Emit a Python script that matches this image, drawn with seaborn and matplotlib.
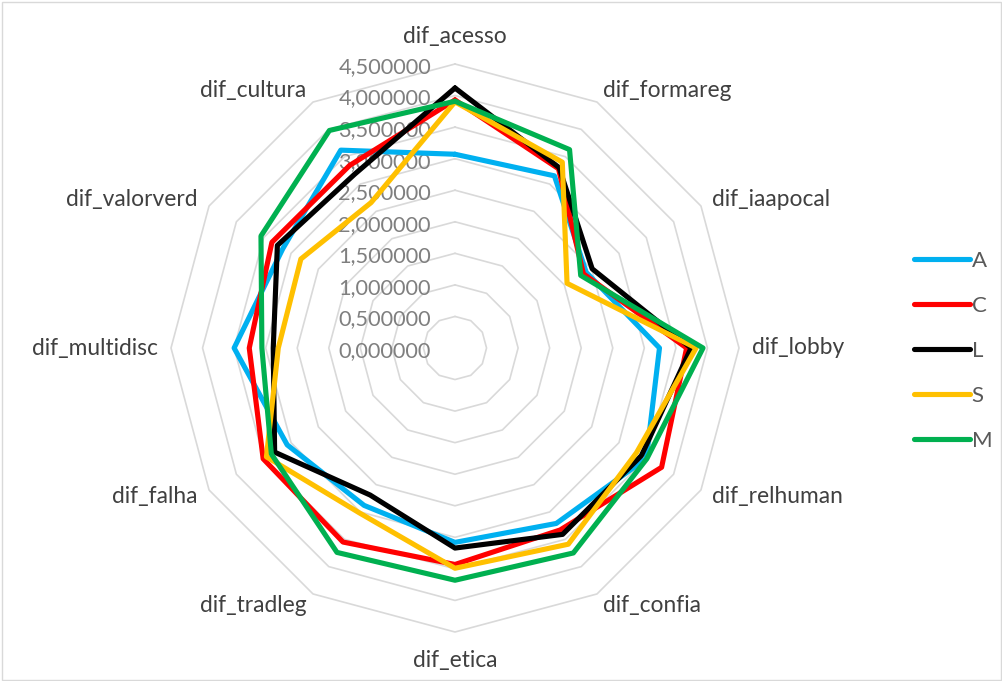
import numpy as np
import pandas as pd
import matplotlib
matplotlib.use("Agg")
import matplotlib.pyplot as plt
from matplotlib.lines import Line2D
from matplotlib.patches import Rectangle
import seaborn as sns

# Radar chart of the twelve "dif_" dimensions for five groups
categories = ["dif_acesso", "dif_formareg", "dif_iaapocal", "dif_lobby",
              "dif_relhuman", "dif_confia", "dif_etica", "dif_tradleg",
              "dif_falha", "dif_multidisc", "dif_valorverd", "dif_cultura"]

series_names = ["A", "C", "L", "S", "M"]
values_A = [3.07, 3.15, 2.40, 3.24, 3.50, 3.21, 3.08, 2.88, 3.07, 3.50, 3.15, 3.62]
values_C = [3.93, 3.28, 2.35, 3.67, 3.78, 3.33, 3.43, 3.55, 3.51, 3.26, 3.35, 3.34]
values_L = [4.12, 3.30, 2.51, 3.74, 3.41, 3.41, 3.17, 2.69, 3.30, 2.88, 3.25, 3.18]
values_S = [3.90, 3.40, 2.05, 3.82, 3.32, 3.59, 3.49, 3.02, 3.45, 2.80, 2.82, 2.66]
values_M = [3.91, 3.63, 2.30, 3.93, 3.51, 3.75, 3.68, 3.74, 3.36, 3.06, 3.55, 3.98]

ring_values = [0.0, 0.5, 1.0, 1.5, 2.0, 2.5, 3.0, 3.5, 4.0, 4.5]
ring_labels = ["0,000000", "0,500000", "1,000000", "1,500000", "2,000000",
               "2,500000", "3,000000", "3,500000", "4,000000", "4,500000"]

colors = {"A": "#00B0F0", "C": "#FF0000", "L": "#000000",
          "S": "#FFC000", "M": "#00B050"}

sns.set_style("white")
plt.rcParams["font.family"] = ["Lato", "DejaVu Sans"]

n = len(categories)
theta = np.arange(n) * 2 * np.pi / n
theta_closed = np.append(theta, 2 * np.pi)

all_values = {"A": values_A, "C": values_C, "L": values_L,
              "S": values_S, "M": values_M}
frames = []
for name in series_names:
    vals = all_values[name]
    frames.append(pd.DataFrame({
        "theta": theta_closed,
        "value": list(vals) + [vals[0]],
        "series": name,
    }))
df = pd.concat(frames, ignore_index=True)

fig = plt.figure(figsize=(10.03, 6.81), dpi=100)
R_PX = 284.0
cx, cy = 455.0, 681.0 - 348.0
ax = fig.add_axes([(cx - R_PX) / 1003, (cy - R_PX) / 681,
                   2 * R_PX / 1003, 2 * R_PX / 681], projection="polar")
ax.set_theta_offset(np.pi / 2)
ax.set_theta_direction(-1)
ax.set_ylim(0, 4.5)
ax.set_facecolor("none")
ax.grid(False)
ax.spines["polar"].set_visible(False)

# straight-edged polygon rings
for v in ring_values[1:]:
    ax.plot(theta_closed, [v] * (n + 1), color="#d9d9d9", lw=1.2,
            zorder=1, clip_on=False)

sns.lineplot(data=df, x="theta", y="value", hue="series",
             hue_order=series_names, palette=colors, sort=False,
             estimator=None, linewidth=3.7, legend=False, ax=ax, zorder=3)
for line in ax.lines:
    line.set_clip_on(False)
    line.set_solid_joinstyle("round")

ax.set_xticks([])
ax.set_yticks([])
ax.set_xlabel("")
ax.set_ylabel("")

# ring value labels along the vertical axis
for v, lab in zip(ring_values, ring_labels):
    ax.annotate(lab, xy=(0, v), xytext=(-24, -3), textcoords="offset pixels",
                ha="right", va="center", fontsize=15.7, color="#7f7f7f",
                zorder=2, annotation_clip=False)

# category labels around the outer ring
for t, lab in zip(theta, categories):
    s, c = np.sin(t), np.cos(t)
    if abs(s) < 0.1:
        ha = "center"
        r = 4.5 * 312 / R_PX
    else:
        ha = "left" if s > 0 else "right"
        r = 4.5 * 297 / R_PX
    ax.text(t, r, lab, ha=ha, va="center", fontsize=16.4, color="#404040",
            clip_on=False)

handles = [Line2D([0], [0], color=colors[nm], lw=3.7, solid_capstyle="round")
           for nm in series_names]
fig.legend(handles, series_names, loc="upper left",
           bbox_to_anchor=(894 / 1003, 1 - 231 / 681), frameon=False,
           fontsize=16, handlelength=2.5, handletextpad=0.1,
           labelspacing=1.12, labelcolor="#595959")

fig.patches.append(Rectangle((0.002, 0.002), 0.996, 0.995,
                             transform=fig.transFigure, fill=False,
                             edgecolor="#d9d9d9", lw=1.0))

fig.savefig("out.png", dpi=100)
